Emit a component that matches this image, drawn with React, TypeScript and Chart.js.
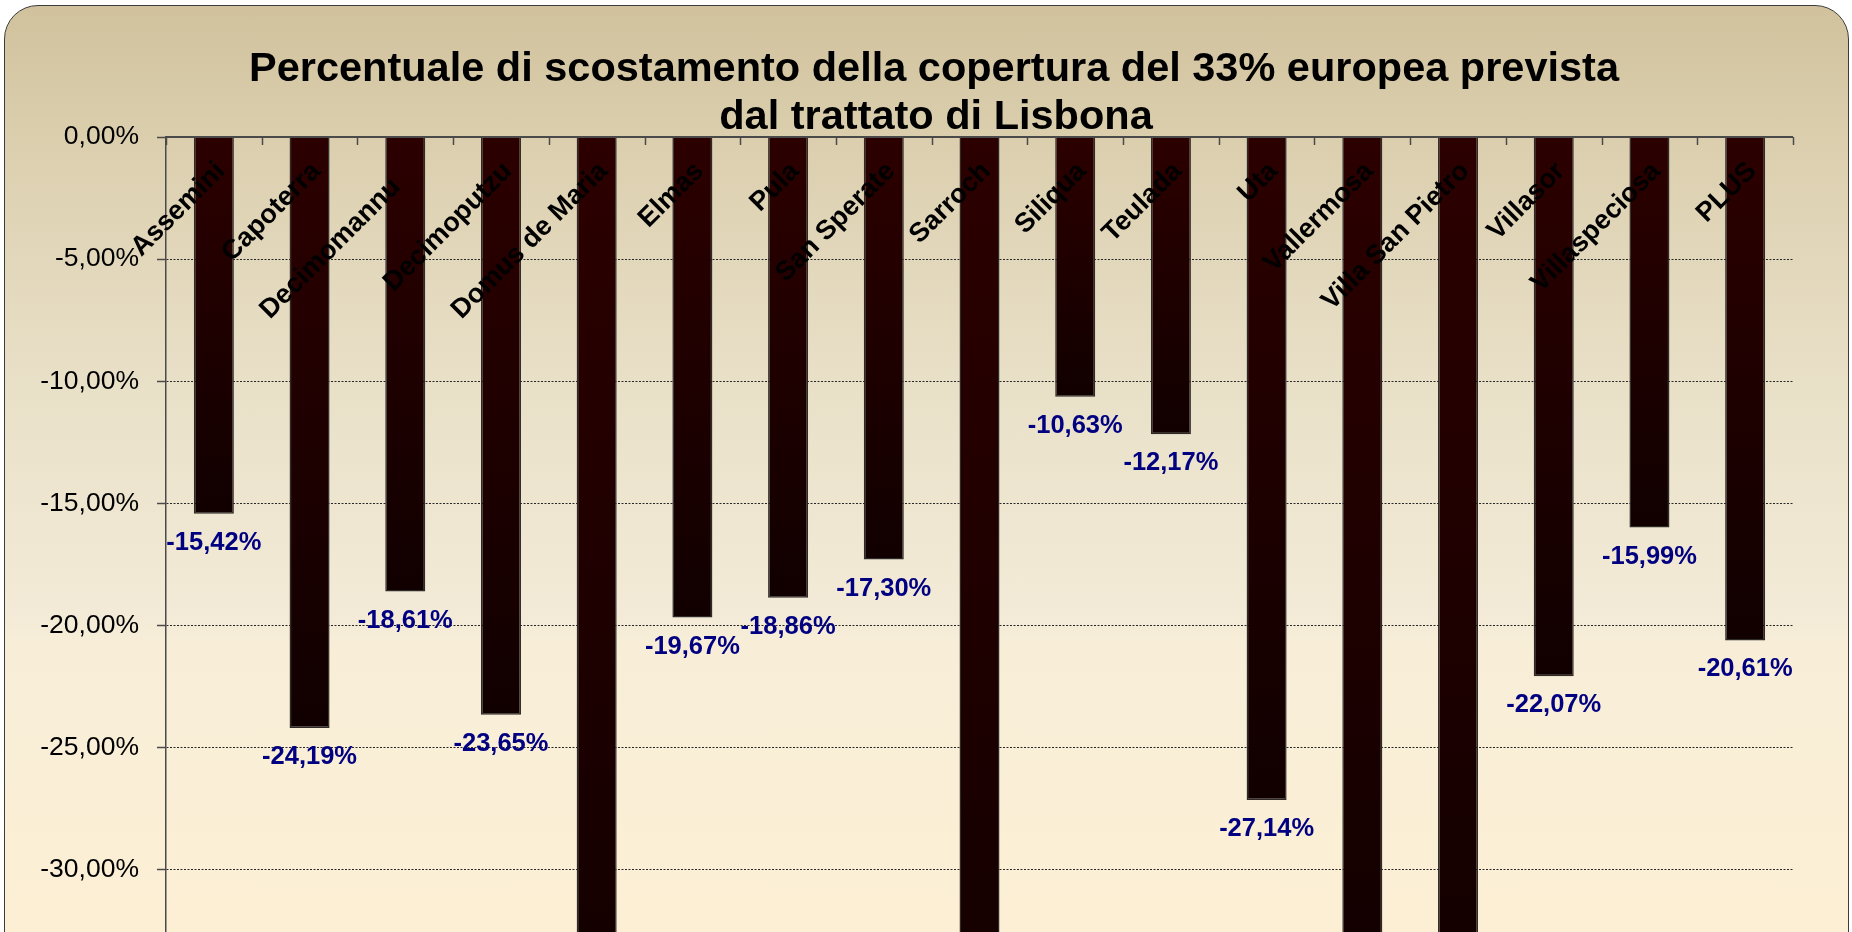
import React, { useEffect, useRef } from "react";
import { Chart, registerables } from "chart.js";

Chart.register(...registerables);

const TITLE_LINES = [
  "Percentuale di scostamento della copertura del 33% europea prevista",
  "dal trattato di Lisbona",
];

const categories = [
  "Assemini",
  "Capoterra",
  "Decimomannu   ",
  "Decimoputzu",
  "Domus de Maria",
  "Elmas",
  "Pula",
  "San Sperate",
  "Sarroch",
  "Siliqua",
  "Teulada",
  "Uta",
  "Vallermosa",
  "Villa San Pietro",
  "Villasor",
  "Villaspeciosa",
  "PLUS",
];

// percent values; bars that run past the visible bottom are estimates
const deviation = [
  -15.42, -24.19, -18.61, -23.65, -38.0, -19.67, -18.86, -17.3, -40.0, -10.63,
  -12.17, -27.14, -36.0, -37.0, -22.07, -15.99, -20.61,
];

const yTicks = [0, -5, -10, -15, -20, -25, -30, -35];

const FONT = "'Liberation Sans', Arial, sans-serif";

const fmt = (v: number) => {
  const n = Math.abs(v) < 1e-9 ? 0 : v;
  return n.toFixed(2).replace(".", ",") + "%";
};

const overlayPlugin = {
  id: "overlay",
  afterDatasetsDraw(chart: any) {
    const { ctx, chartArea, scales } = chart;
    const x = scales.x;
    const y = scales.y;
    const y0 = y.getPixelForValue(0);
    ctx.save();
    ctx.strokeStyle = "#4a4a4a";
    ctx.lineWidth = 2;
    ctx.beginPath();
    ctx.moveTo(chartArea.left, y0);
    ctx.lineTo(chartArea.right, y0);
    ctx.stroke();
    ctx.lineWidth = 1.5;
    for (let i = 0; i <= categories.length; i++) {
      const px = Math.round(x.getPixelForValue(i - 0.5)) + 0.5;
      ctx.beginPath();
      ctx.moveTo(px, y0);
      ctx.lineTo(px, y0 + 8);
      ctx.stroke();
    }
    ctx.fillStyle = "#000";
    ctx.font = `bold 27px ${FONT}`;
    ctx.textAlign = "right";
    ctx.textBaseline = "middle";
    categories.forEach((c, i) => {
      const cx = x.getPixelForValue(i);
      ctx.save();
      ctx.translate(cx + 7, y0 + 30);
      ctx.rotate(-Math.PI / 4);
      ctx.fillText(c, 0, 0);
      ctx.restore();
    });
    const meta = chart.getDatasetMeta(0);
    ctx.fillStyle = "#000080";
    ctx.font = `bold 25.5px ${FONT}`;
    ctx.textAlign = "center";
    ctx.textBaseline = "alphabetic";
    meta.data.forEach((bar: any, i: number) => {
      const v = deviation[i];
      const py = y.getPixelForValue(v);
      if (py > chartArea.bottom) return;
      ctx.fillText(fmt(v), bar.x, py + 36);
    });
    ctx.restore();
  },
  afterDraw(chart: any) {
    const { ctx } = chart;
    ctx.save();
    ctx.fillStyle = "#000";
    ctx.font = `bold 41.5px ${FONT}`;
    ctx.textAlign = "center";
    ctx.textBaseline = "alphabetic";
    ctx.fillText(TITLE_LINES[0], 934, 81);
    ctx.fillText(TITLE_LINES[1], 936, 129);
    ctx.restore();
  },
};

export default function App() {
  const ref = useRef<HTMLCanvasElement>(null);
  useEffect(() => {
    if (!ref.current) return;
    const chart = new Chart(ref.current, {
      type: "bar",
      data: {
        labels: categories,
        datasets: [
          {
            data: deviation,
            backgroundColor: (c: any) => {
              const ch = c.chart;
              const ys = ch.scales && ch.scales.y;
              if (!ys || c.dataIndex === undefined) return "#220000";
              const top = ys.getPixelForValue(0);
              const bot = ys.getPixelForValue(deviation[c.dataIndex]);
              if (!isFinite(top) || !isFinite(bot) || bot - top < 1)
                return "#220000";
              const g = ch.ctx.createLinearGradient(0, top, 0, bot);
              g.addColorStop(0, "#2c0000");
              g.addColorStop(1, "#110000");
              return g;
            },
            borderColor: "#2e2a28",
            borderWidth: 1.5,
            borderSkipped: "start",
            barPercentage: 0.418,
            categoryPercentage: 1,
          },
        ],
      },
      options: {
        responsive: false,
        animation: false,
        devicePixelRatio: 1,
        layout: { padding: { top: 137, right: 59, bottom: 68, left: 0 } },
        plugins: {
          legend: { display: false },
          title: { display: false },
          tooltip: { enabled: false },
        },
        scales: {
          x: {
            display: false,
            offset: true,
          },
          y: {
            min: -35,
            max: 0,
            afterFit: (s: any) => {
              s.width = 166;
            },
            afterBuildTicks: (s: any) => {
              s.ticks = yTicks.map((v) => ({ value: v }));
            },
            ticks: {
              padding: 18,
              color: "#000",
              font: { family: FONT, size: 26.5 },
              callback: (v: any) => fmt(Number(v)),
            },
            grid: {
              color: (c: any) =>
                c.tick && c.tick.value === 0 ? "rgba(0,0,0,0)" : "#262626",
              lineWidth: 1,
              tickColor: "#4a4a4a",
              tickLength: 9,
              tickWidth: 1.5,
              tickBorderDash: [],
            },
            border: { display: true, color: "#4a4a4a", width: 1.5, dash: [2, 1.5] },
          },
        },
      },
      plugins: [overlayPlugin],
    });
    return () => chart.destroy();
  }, []);

  return (
    <div
      style={{
        position: "absolute",
        left: 0,
        top: 0,
        width: 1852,
        height: 932,
        overflow: "hidden",
        background: "#fff",
      }}
    >
      <div
        style={{
          position: "absolute",
          left: 4,
          top: 5,
          width: 1845,
          height: 1100,
          boxSizing: "border-box",
          border: "1.5px solid #3c3c3c",
          borderRadius: 34,
          background:
            "linear-gradient(180deg, #d1c29d 0px, #dcd0b0 150px, #e9e0c8 380px, #f3ebd7 610px, #f8eed8 640px, #fcefd4 930px, #fcefd4 100%)",
        }}
      />
      <canvas
        ref={ref}
        width={1852}
        height={1060}
        style={{ position: "absolute", left: 0, top: 0, display: "block" }}
      />
    </div>
  );
}
